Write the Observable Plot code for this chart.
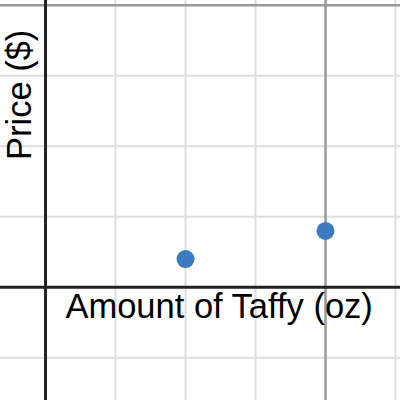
<!DOCTYPE html>
<html>
<head>
<meta charset="utf-8">
<script src="https://cdn.jsdelivr.net/npm/d3@7"></script>
<script src="https://cdn.jsdelivr.net/npm/@observablehq/plot@0.6"></script>
<style>
  html, body { margin: 0; padding: 0; background: #fff; }
</style>
</head>
<body>
<div id="chart"></div>
<script>
// Data
const amounts = [2, 4];          // ounces
const prices = [0.4, 0.8];       // dollars
const minorX = [1, 2, 3, 5];
const majorX = [4];
const minorY = [-1, 1, 2, 3];
const majorY = [4];
const xDomain = [-0.643, 5.071];
const yDomain = [-1.606, 4.068];
const xLabel = "Amount of Taffy (oz)";
const yLabel = "Price ($)";

const points = amounts.map((a, i) => ({amount: a, price: prices[i]}));

const chart = Plot.plot({
  width: 400,
  height: 400,
  margin: 0,
  x: {domain: xDomain, axis: null},
  y: {domain: yDomain, axis: null},
  style: {background: "#fff", fontFamily: "'Liberation Sans', Arial, sans-serif"},
  marks: [
    Plot.ruleX(minorX, {stroke: "#dedede", strokeWidth: 2}),
    Plot.ruleY(minorY, {stroke: "#dedede", strokeWidth: 2}),
    Plot.ruleX(majorX, {stroke: "#999", strokeWidth: 2.5}),
    Plot.ruleY(majorY, {stroke: "#999", strokeWidth: 2.5}),
    Plot.ruleX([0], {stroke: "#222", strokeWidth: 3}),
    Plot.ruleY([0], {stroke: "#222", strokeWidth: 3}),
    Plot.dot(points, {x: "amount", y: "price", r: 9, fill: "#3b7bbf", stroke: "none"}),
    Plot.text([xLabel], {x: 2.48, y: -0.43, text: d => d, fontSize: 34.5, fill: "#000", textAnchor: "middle", lineAnchor: "bottom"}),
    Plot.text([yLabel], {x: -0.214, y: 2.73, text: d => d, fontSize: 34.5, fill: "#000", textAnchor: "middle", lineAnchor: "bottom", rotate: -90})
  ]
});
document.getElementById("chart").appendChild(chart);
</script>
</body>
</html>
